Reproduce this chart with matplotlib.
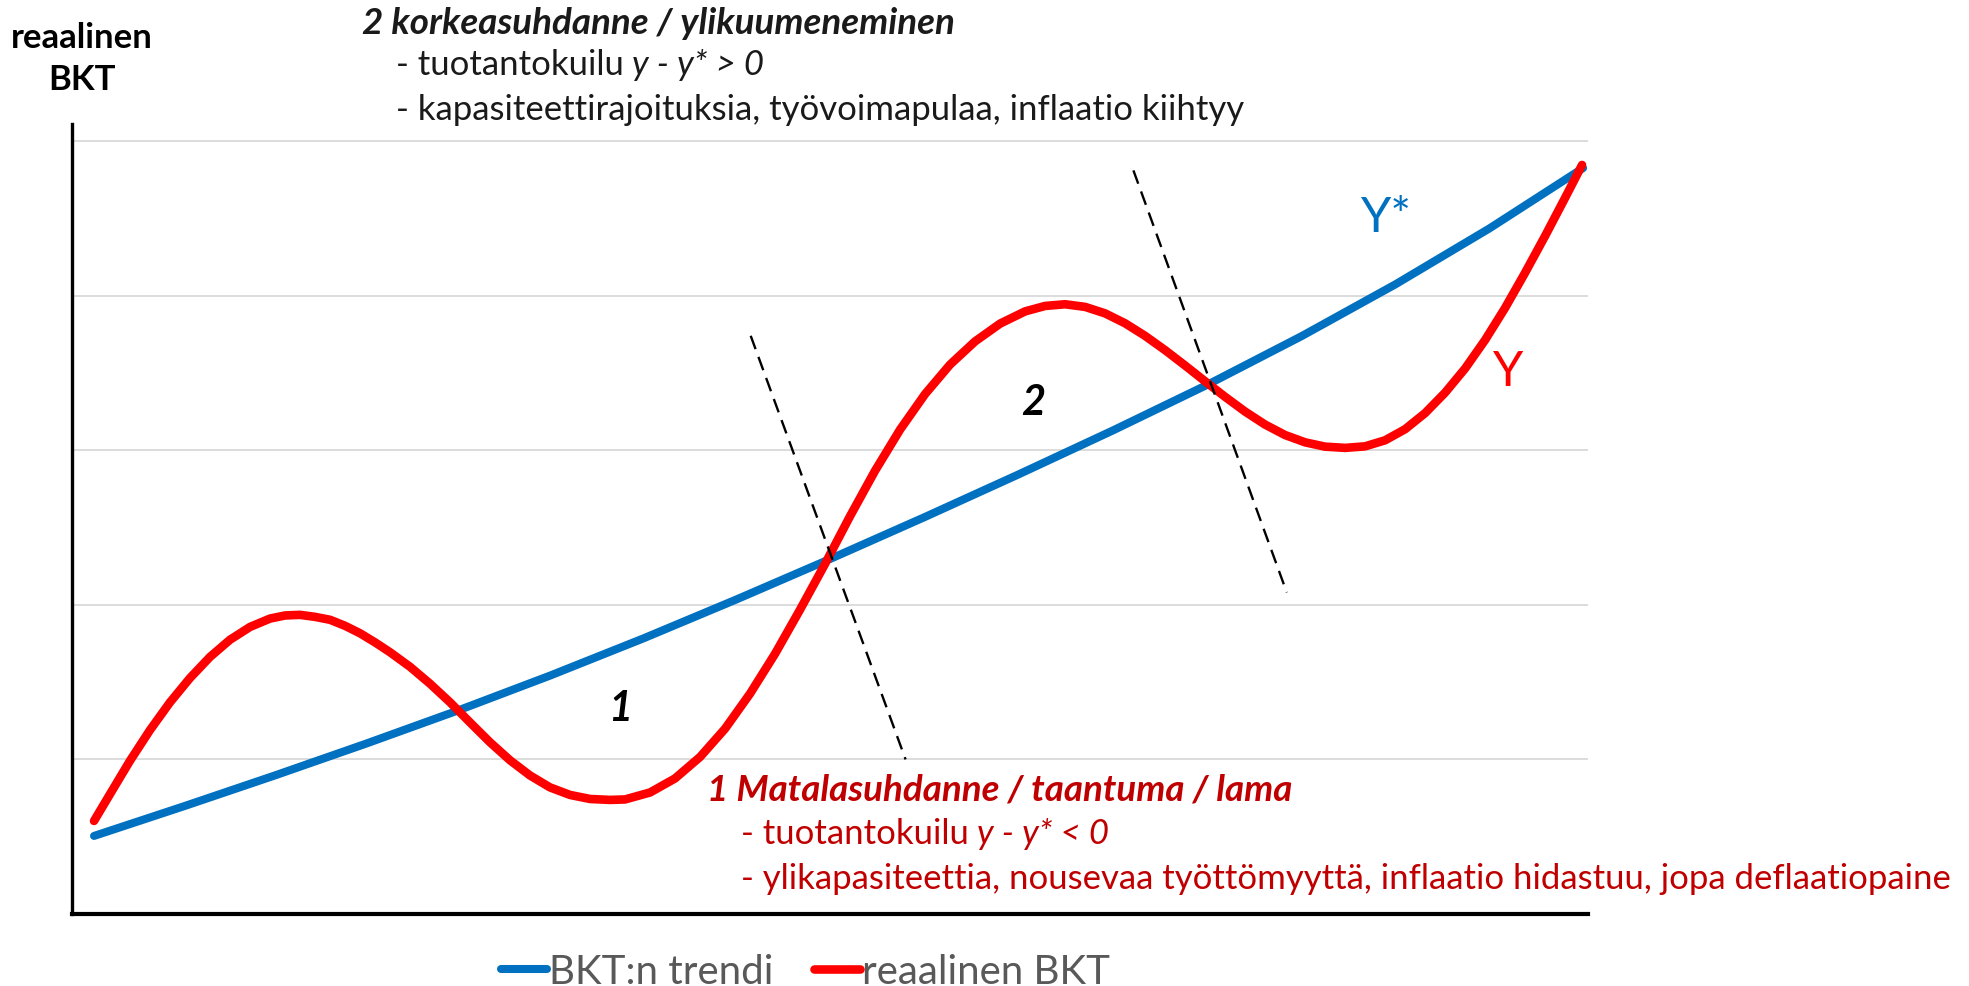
import matplotlib.pyplot as plt

plt.rcParams['font.family'] = ['Lato', 'DejaVu Sans']

# aika-akseli 0..100, arvot gridin yksikoissa (0..5)
trend_t = [0, 6.1, 12.2, 18.3, 24.4, 30.65, 36.9, 43.15, 49.4, 55.75, 62.1,
           68.45, 74.8, 81.1, 87.4, 93.7, 100]
trend_v = [0.505, 0.699, 0.898, 1.103, 1.315, 1.543, 1.783, 2.035, 2.295, 2.566,
           2.844, 3.129, 3.425, 3.738, 4.073, 4.434, 4.825]

bkt_t = [0, 1.07, 2.42, 3.76, 5.10, 6.45, 7.79, 9.13, 10.48, 11.82, 12.83,
         13.83, 14.84, 15.85, 16.86, 17.86, 18.87, 19.88, 21.22, 22.57, 23.91,
         25.25, 26.60, 27.94, 29.28, 30.62, 31.97, 33.31, 34.65, 35.66, 37.34,
         39.02, 40.70, 42.38, 44.06, 45.74, 47.41, 49.09, 50.77, 52.45, 54.13,
         55.81, 57.49, 59.17, 60.85, 62.53, 63.87, 65.21, 66.56, 67.90, 69.24,
         70.58, 71.93, 73.27, 74.61, 75.96, 77.30, 78.64, 79.99, 81.33, 82.67,
         84.02, 85.36, 86.70, 88.05, 89.39, 90.73, 92.08, 93.42, 94.76, 96.10,
         97.45, 98.79, 99.93]
bkt_v = [0.602, 0.775, 0.992, 1.190, 1.369, 1.527, 1.663, 1.774, 1.857, 1.911,
         1.931, 1.935, 1.922, 1.903, 1.864, 1.816, 1.757, 1.693, 1.599, 1.489,
         1.369, 1.239, 1.110, 0.994, 0.896, 0.819, 0.770, 0.744, 0.738, 0.741,
         0.786, 0.877, 1.016, 1.199, 1.426, 1.684, 1.968, 2.264, 2.573, 2.867,
         3.133, 3.363, 3.554, 3.704, 3.819, 3.898, 3.933, 3.944, 3.927, 3.885,
         3.821, 3.740, 3.647, 3.548, 3.446, 3.345, 3.250, 3.166, 3.098, 3.051,
         3.023, 3.015, 3.025, 3.064, 3.136, 3.240, 3.372, 3.529, 3.713, 3.920,
         4.147, 4.386, 4.632, 4.845]

# suhdannevaiheiden rajat (katkoviivat)
raja1_t, raja1_v = [44.1, 54.5], [3.74, 1.00]
raja2_t, raja2_v = [69.8, 80.1], [4.81, 2.08]

grid_levels = [1, 2, 3, 4, 5]

BLUE = '#0070C0'
RED = '#FF0000'
DARKRED = '#C00000'
INK = '#1A1A1A'

W, H = 1969, 987
fig = plt.figure(figsize=(W / 100, H / 100), dpi=100)
ax = fig.add_axes([72 / W, 1 - 915 / H, (1588 - 72) / W, (915 - 125) / H])
ax.set_xlim(-1.48, 100.33)
ax.set_ylim(0, 5.11)

ax.set_yticks(grid_levels)
ax.set_xticks([])
ax.tick_params(left=False, labelleft=False)
ax.grid(axis='y', color='#D9D9D9', lw=1.3)
ax.set_axisbelow(True)
for s in ['top', 'right']:
    ax.spines[s].set_visible(False)
ax.spines['left'].set_linewidth(2.4)
ax.spines['bottom'].set_linewidth(3)

ax.plot(trend_t, trend_v, color=BLUE, lw=5.8, solid_capstyle='round',
        solid_joinstyle='round', label='BKT:n trendi')
ax.plot(bkt_t, bkt_v, color=RED, lw=6.2, solid_capstyle='round',
        solid_joinstyle='round', label='reaalinen BKT')

ax.plot(raja1_t, raja1_v, color='black', lw=1.7, ls=(0, (6, 3.5)))
ax.plot(raja2_t, raja2_v, color='black', lw=1.7, ls=(0, (6, 3.5)))

ax.text(35.3, 1.33, '1', fontsize=30, fontweight='bold', style='italic',
        ha='center', va='center', color='black')
ax.text(63.1, 3.31, '2', fontsize=30, fontweight='bold', style='italic',
        ha='center', va='center', color='black')
ax.text(86.7, 4.51, 'Y*', fontsize=35, color=BLUE, ha='center', va='center')
ax.text(94.9, 3.51, 'Y', fontsize=35, color=RED, ha='center', va='center')


def px(x, y):
    return x / W, 1 - y / H


FS = 25
FSB = 26.5


def rich(x, y, parts, color):
    # rivi, jossa osa tekstista on kursiivilla
    prev = None
    for s, st, gap in parts:
        if prev is None:
            prev = fig.text(*px(x, y), s, fontsize=FS, style=st, color=color,
                            ha='left', va='center')
        else:
            prev = ax.annotate(s, xy=(1, 0), xycoords=prev, xytext=(gap, 0),
                               textcoords='offset points', fontsize=FS,
                               style=st, color=color, ha='left', va='bottom',
                               annotation_clip=False)


fig.text(*px(82, 38), 'reaalinen', fontsize=FS, fontweight='bold',
         ha='center', va='center', color='black')
fig.text(*px(82, 80), 'BKT', fontsize=FS, fontweight='bold',
         ha='center', va='center', color='black')

fig.text(*px(362, 23), '2 korkeasuhdanne / ylikuumeneminen', fontsize=FSB,
         fontweight='bold', style='italic', ha='left', va='center', color=INK)
rich(396, 65, [('- tuotantokuilu', 'normal', 0), ('y - y* > 0', 'italic', 6)],
     INK)
fig.text(*px(396, 110), '- kapasiteettirajoituksia, työvoimapulaa, inflaatio kiihtyy',
         fontsize=FS, ha='left', va='center', color=INK)

fig.text(*px(707, 790), '1 Matalasuhdanne / taantuma / lama', fontsize=FSB,
         fontweight='bold', style='italic', ha='left', va='center',
         color=DARKRED)
rich(741, 834, [('- tuotantokuilu', 'normal', 0), ('y - y* < 0', 'italic', 6)],
     DARKRED)
fig.text(*px(741, 879),
         '- ylikapasiteettia, nousevaa työttömyyttä, inflaatio hidastuu, jopa deflaatiopaine',
         fontsize=FS, ha='left', va='center', color=DARKRED)

leg = fig.legend(loc='center', bbox_to_anchor=(0.409, 0.015), ncol=2,
                 frameon=False, fontsize=29, handlelength=1.15,
                 handletextpad=0.05, columnspacing=1.0, borderaxespad=0)
for t in leg.get_texts():
    t.set_color('#595959')

fig.savefig('out.png', dpi=100)
